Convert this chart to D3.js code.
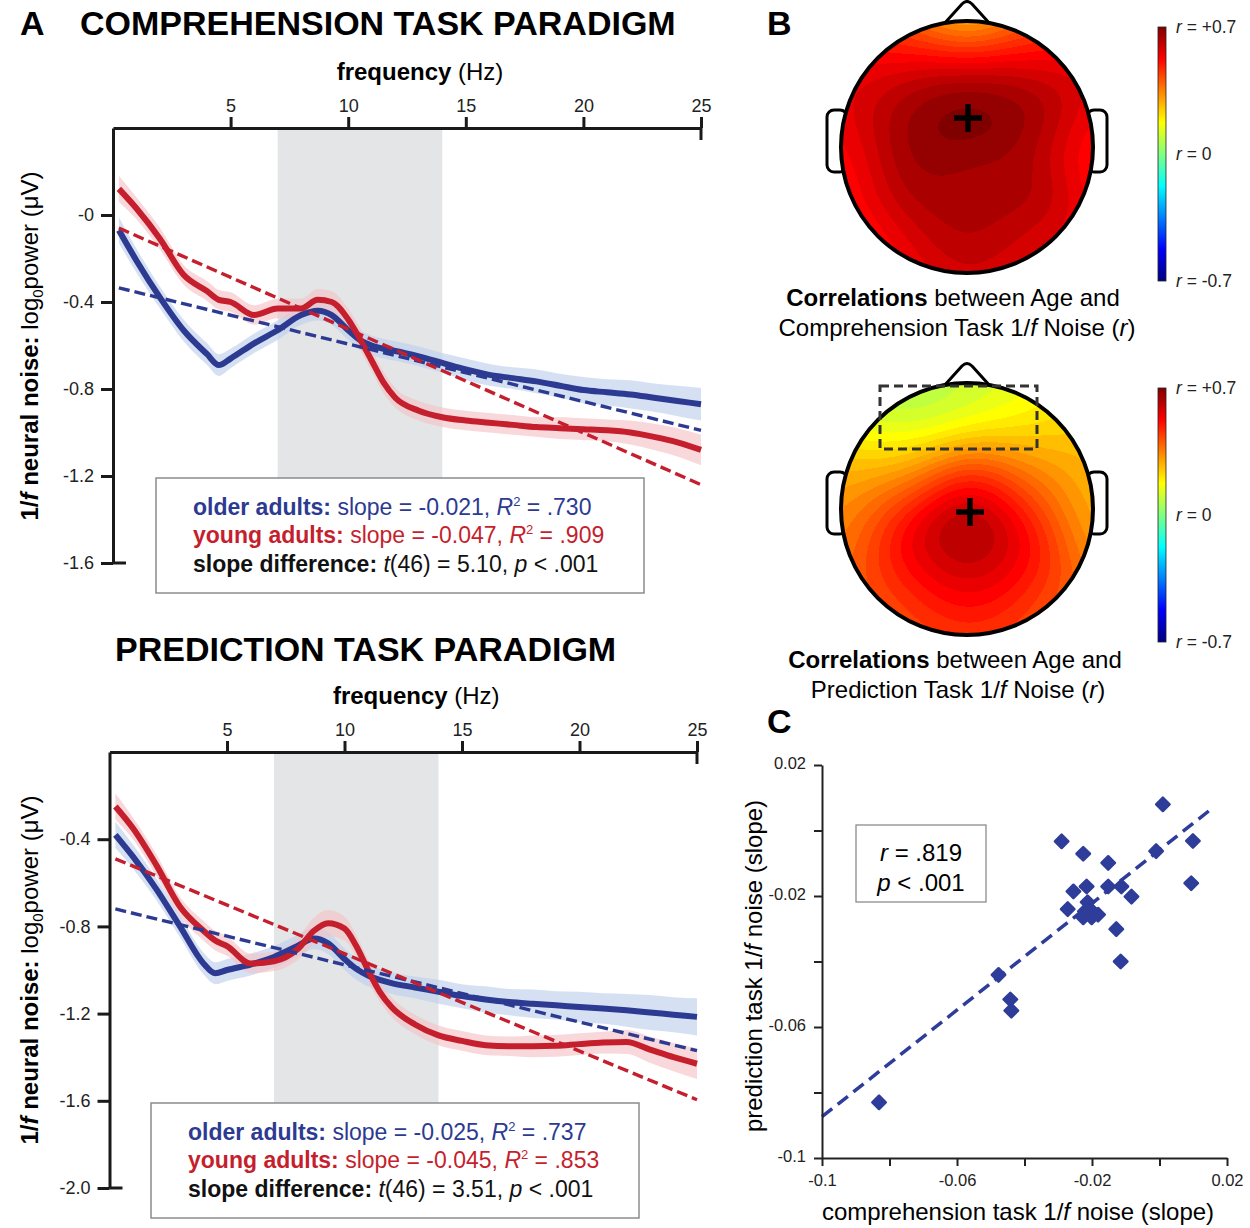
<!DOCTYPE html>
<html>
<head>
<meta charset="utf-8">
<script src="https://cdn.jsdelivr.net/npm/d3@7"></script>
<style>
  body { margin: 0; background: #fff; }
  text { font-family: "Liberation Sans", Arial, sans-serif; white-space: pre; }
  .narrow text { font-family: "Liberation Sans Narrow", "Arial Narrow", "Liberation Sans", Arial, sans-serif; }
</style>
</head>
<body>
<svg id="fig" width="1250" height="1228"></svg>
<script>
// ---------- data ----------
var freq = [0.25, 1, 2, 3, 4, 4.5, 5, 6, 7, 8, 8.7, 9.3, 10, 10.5, 11, 11.5, 12, 13, 14, 15, 16, 17, 18, 19, 20, 21, 22, 23, 24, 25];
var alphaBand = [7, 14];

// comprehension task: mean log power and shaded error
var compOlder = [-0.07, -0.21, -0.38, -0.53, -0.64, -0.69, -0.66, -0.59, -0.53, -0.46, -0.44, -0.46, -0.53, -0.575, -0.60, -0.615, -0.625, -0.65, -0.68, -0.71, -0.735, -0.75, -0.765, -0.785, -0.805, -0.815, -0.825, -0.84, -0.855, -0.87];
var compOlderSE = [0.06, 0.055, 0.05, 0.05, 0.05, 0.05, 0.045, 0.045, 0.045, 0.045, 0.045, 0.045, 0.045, 0.045, 0.045, 0.045, 0.045, 0.045, 0.045, 0.05, 0.05, 0.05, 0.055, 0.055, 0.06, 0.06, 0.065, 0.065, 0.07, 0.075];
var compYoung = [0.12, 0.03, -0.11, -0.275, -0.35, -0.39, -0.40, -0.46, -0.43, -0.43, -0.39, -0.40, -0.48, -0.57, -0.67, -0.77, -0.84, -0.90, -0.93, -0.945, -0.955, -0.965, -0.975, -0.98, -0.985, -0.99, -1.0, -1.02, -1.045, -1.08];
var compYoungSE = [0.06, 0.05, 0.05, 0.045, 0.045, 0.045, 0.045, 0.045, 0.045, 0.045, 0.05, 0.05, 0.05, 0.05, 0.05, 0.05, 0.045, 0.045, 0.045, 0.045, 0.045, 0.045, 0.045, 0.05, 0.05, 0.05, 0.055, 0.06, 0.065, 0.07];
var compOlderFit = [-0.335, -0.99];   // at freq 0.25 and 25
var compYoungFit = [-0.06, -1.24];

// prediction task
var predOlder = [-0.38, -0.48, -0.63, -0.80, -0.97, -1.015, -1.0, -0.975, -0.94, -0.89, -0.855, -0.877, -0.95, -0.995, -1.025, -1.045, -1.06, -1.08, -1.10, -1.12, -1.135, -1.147, -1.155, -1.162, -1.17, -1.177, -1.185, -1.195, -1.205, -1.215];
var predOlderSE = [0.06, 0.055, 0.05, 0.05, 0.05, 0.05, 0.05, 0.05, 0.05, 0.05, 0.05, 0.05, 0.05, 0.05, 0.05, 0.05, 0.05, 0.05, 0.055, 0.055, 0.06, 0.06, 0.065, 0.065, 0.07, 0.07, 0.075, 0.08, 0.08, 0.085];
var predYoung = [-0.25, -0.35, -0.52, -0.71, -0.82, -0.865, -0.89, -0.97, -0.96, -0.905, -0.82, -0.785, -0.81, -0.89, -1.0, -1.10, -1.17, -1.25, -1.30, -1.325, -1.345, -1.35, -1.35, -1.348, -1.34, -1.333, -1.33, -1.365, -1.40, -1.43];
var predYoungSE = [0.06, 0.05, 0.05, 0.045, 0.045, 0.045, 0.045, 0.045, 0.045, 0.05, 0.06, 0.06, 0.055, 0.05, 0.05, 0.045, 0.045, 0.045, 0.045, 0.045, 0.045, 0.045, 0.05, 0.05, 0.05, 0.05, 0.055, 0.06, 0.065, 0.07];
var predOlderFit = [-0.72, -1.37];
var predYoungFit = [-0.49, -1.595];

var compYTicks = [0, -0.4, -0.8, -1.2, -1.6];
var compYLabels = ["-0", "-0.4", "-0.8", "-1.2", "-1.6"];
var predYTicks = [-0.4, -0.8, -1.2, -1.6, -2.0];
var predYLabels = ["-0.4", "-0.8", "-1.2", "-1.6", "-2.0"];
var freqTicks = [5, 10, 15, 20, 25];

// topographic maps: electrode positions (unit head) and r values
var elecX = [0, -0.4, 0.4, -0.7, 0.7, -0.95, 0.95, -1, 1, -0.95, 0.95, -0.7, 0.7, -0.4, 0.4, 0, 0, -0.35, 0.35, -0.6, 0.6, 0, -0.3, 0.3, -0.6, 0.6, 0, -0.3, 0.3, 0.55, 0, -0.55, 0, -0.3, 0.3];
var elecY = [1, 0.92, 0.92, 0.7, 0.7, 0.3, 0.3, 0, 0, -0.3, -0.3, -0.7, -0.7, -0.92, -0.92, -1, 0.7, 0.6, 0.6, 0.35, 0.35, 0.3, 0.25, 0.25, 0, 0, 0, -0.3, -0.3, -0.4, -0.35, -0.45, -0.7, -0.7, -0.7];
var compTopo = [0.05, 0.32, 0.32, 0.5, 0.5, 0.55, 0.55, 0.5, 0.45, 0.47, 0.5, 0.42, 0.5, 0.5, 0.52, 0.55, 0.62, 0.64, 0.64, 0.64, 0.7, 0.74, 0.72, 0.72, 0.66, 0.6, 0.68, 0.68, 0.62, 0.72, 0.6, 0.66, 0.7, 0.64, 0.64];
var predTopo = [0.1, 0.04, 0.12, 0.08, 0.22, 0.25, 0.26, 0.32, 0.25, 0.35, 0.3, 0.36, 0.36, 0.38, 0.38, 0.4, 0.1, 0.08, 0.18, 0.25, 0.3, 0.48, 0.44, 0.48, 0.5, 0.46, 0.75, 0.63, 0.63, 0.52, 0.66, 0.52, 0.58, 0.52, 0.54];

// scatter: slopes per participant
var compSlope = [0.001, -0.029, -0.0226, -0.0152, -0.001, 0.0099, 0.0094, -0.0255, -0.0216, -0.0152, -0.0113, -0.0083, -0.0213, -0.0272, -0.0226, -0.0206, -0.0201, -0.0182, -0.0221, -0.0128, -0.0115, -0.0477, -0.0442, -0.0439, -0.0831];
var predSlope = [0.008, -0.0033, -0.0071, -0.0099, -0.0063, -0.0032, -0.0161, -0.0186, -0.0171, -0.0171, -0.0171, -0.0202, -0.0219, -0.024, -0.0265, -0.024, -0.0265, -0.0257, -0.0247, -0.0301, -0.04, -0.0441, -0.0516, -0.055, -0.083];
var slopeFitX = [-0.1, 0.016];
var slopeFitY = [-0.0874, 0.0071];
var scatterTicks = [-0.1, -0.08, -0.06, -0.04, -0.02, 0, 0.02];
var scatterLabels = ["-0.1", "", "-0.06", "", "-0.02", "", "0.02"];

// ---------- drawing ----------
var blue = "#2c3a92", red = "#c51f2e";
var svg = d3.select("#fig");

function rich(g, x, y, parts, anchor) {
  var t = g.append("text").attr("x", x).attr("y", y).attr("text-anchor", anchor || "start");
  parts.forEach(function(p) {
    var s = t.append("tspan").text(p.t);
    if (p.b) s.attr("font-weight", "bold");
    if (p.i) s.attr("font-style", "italic");
    if (p.fs) s.attr("font-size", p.fs);
    if (p.dy) s.attr("dy", p.dy);
  });
  return t;
}

function spectrum(o) {
  var x = d3.scaleLinear().domain([0, 25]).range([o.left, o.right]);
  var y = d3.scaleLinear().domain(o.yDomain).range([o.bottom, o.top]);
  var g = svg.append("g");

  g.append("rect")
    .attr("x", x(alphaBand[0])).attr("y", o.top)
    .attr("width", x(alphaBand[1]) - x(alphaBand[0]))
    .attr("height", o.bottom - o.top)
    .attr("fill", "#e3e5e7");

  var idx = d3.range(freq.length);
  var groups = [
    {m: o.older, se: o.olderSE, fit: o.olderFit, c: blue, band: "#bfd1ec"},
    {m: o.young, se: o.youngSE, fit: o.youngFit, c: red, band: "#f4c3c6"}
  ];
  groups.forEach(function(s) {
    g.append("path")
      .attr("d", d3.area().curve(d3.curveMonotoneX)
        .x(i => x(freq[i])).y0(i => y(s.m[i] - s.se[i])).y1(i => y(s.m[i] + s.se[i]))(idx))
      .attr("fill", s.band).attr("opacity", 0.65);
  });
  groups.forEach(function(s) {
    g.append("path")
      .attr("d", d3.line().curve(d3.curveMonotoneX).x(i => x(freq[i])).y(i => y(s.m[i]))(idx))
      .attr("fill", "none").attr("stroke", s.c).attr("stroke-width", 6)
      .attr("stroke-linejoin", "round");
  });
  groups.forEach(function(s) {
    g.append("line")
      .attr("x1", x(freq[0])).attr("y1", y(s.fit[0]))
      .attr("x2", x(25)).attr("y2", y(s.fit[1]))
      .attr("stroke", s.c).attr("stroke-width", 3.4).attr("stroke-dasharray", "11,5");
  });

  // axes
  var xa = g.append("g").attr("class", "narrow").attr("transform", `translate(0,${o.top})`)
    .call(d3.axisTop(x).tickValues(freqTicks).tickSize(11).tickSizeOuter(0).tickPadding(5));
  var ya = g.append("g").attr("class", "narrow").attr("transform", `translate(${o.left},0)`)
    .call(d3.axisLeft(y).tickValues(o.yTicks).tickFormat((d, i) => o.yLabels[i]).tickSize(12).tickSizeOuter(0).tickPadding(7));
  [xa, ya].forEach(function(a) {
    a.attr("font-family", null).attr("font-size", 18);
    a.selectAll("path, line").attr("stroke", "#1a1a1a").attr("stroke-width", 3);
    a.selectAll("text").attr("fill", "#222");
  });
  g.append("line").attr("x1", x(25)).attr("x2", x(25)).attr("y1", o.top).attr("y2", o.top + 12)
    .attr("stroke", "#1a1a1a").attr("stroke-width", 3);
  g.append("line").attr("x1", o.left).attr("x2", o.left + 13).attr("y1", o.bottom).attr("y2", o.bottom)
    .attr("stroke", "#1a1a1a").attr("stroke-width", 3);

  // axis titles
  rich(g, (o.left + o.right) / 2 + 13, o.top - 48, [{t: "frequency", b: 1}, {t: " (Hz)"}], "middle").attr("font-size", 24);
  rich(g, 0, 0, [{t: "1/", b: 1}, {t: "f", b: 1, i: 1}, {t: " neural noise:", b: 1}, {t: " log"}, {t: "0", fs: 15, dy: 5}, {t: "power (\u03bcV)", dy: -5}], "middle")
    .attr("font-size", 24).attr("transform", `translate(38,${o.labelY}) rotate(-90)`);

  // legend box
  var L = g.append("g");
  L.append("rect").attr("x", o.box[0]).attr("y", o.box[1]).attr("width", 488).attr("height", 115)
    .attr("fill", "#fff").attr("stroke", "#8c8c8c").attr("stroke-width", 1.5);
  var lx = o.box[0] + 37, ly = o.box[1] + 37;
  rich(L, lx, ly, [{t: "older adults:", b: 1}, {t: " slope = " + o.stats[0] + ", "}, {t: "R", i: 1}, {t: "2", fs: 13, dy: -9}, {t: " = " + o.stats[1], dy: 9}])
    .attr("font-size", 23).attr("fill", blue);
  rich(L, lx, ly + 28, [{t: "young adults:", b: 1}, {t: " slope = " + o.stats[2] + ", "}, {t: "R", i: 1}, {t: "2", fs: 13, dy: -9}, {t: " = " + o.stats[3], dy: 9}])
    .attr("font-size", 23).attr("fill", red);
  rich(L, lx, ly + 57, [{t: "slope difference:", b: 1}, {t: " "}, {t: "t", i: 1}, {t: "(46) = " + o.stats[4] + ", "}, {t: "p", i: 1}, {t: " < .001"}])
    .attr("font-size", 23).attr("fill", "#111");
}

// titles
svg.append("text").attr("x", 20).attr("y", 35).attr("font-size", 34).attr("font-weight", "bold").text("A");
svg.append("text").attr("x", 80).attr("y", 35).attr("font-size", 34).attr("font-weight", "bold").text("COMPREHENSION TASK PARADIGM");
svg.append("text").attr("x", 115).attr("y", 661).attr("font-size", 34).attr("font-weight", "bold").text("PREDICTION TASK PARADIGM");
svg.append("text").attr("x", 767).attr("y", 35).attr("font-size", 34).attr("font-weight", "bold").text("B");
svg.append("text").attr("x", 767).attr("y", 733).attr("font-size", 34).attr("font-weight", "bold").text("C");

spectrum({left: 113, right: 701, top: 128, bottom: 563, yDomain: [-1.6, 0.4],
  yTicks: compYTicks, yLabels: compYLabels, labelY: 346,
  older: compOlder, olderSE: compOlderSE, olderFit: compOlderFit,
  young: compYoung, youngSE: compYoungSE, youngFit: compYoungFit,
  box: [156, 478], stats: ["-0.021", ".730", "-0.047", ".909", "5.10"]});

spectrum({left: 109.5, right: 697, top: 752, bottom: 1188, yDomain: [-2.0, 0],
  yTicks: predYTicks, yLabels: predYLabels, labelY: 970,
  older: predOlder, olderSE: predOlderSE, olderFit: predOlderFit,
  young: predYoung, youngSE: predYoungSE, youngFit: predYoungFit,
  box: [151, 1103], stats: ["-0.025", ".737", "-0.045", ".853", "3.51"]});

// ---------- panel B: topographies ----------
function jet(t) {
  var c = v => Math.max(0, Math.min(1, v));
  return [c(1.5 - Math.abs(4 * t - 3)), c(1.5 - Math.abs(4 * t - 2)), c(1.5 - Math.abs(4 * t - 1))];
}
var rScale = d3.scaleLinear().domain([-0.7, 0.7]).range([0, 1]).clamp(true);

function topo(cx, cy, R, vals, id, roi) {
  var g = svg.append("g");
  // nose and ears behind the head
  g.append("path")
    .attr("d", `M${cx - 24},${cy - R + 4} L${cx - 5},${cy - R - 17} Q${cx},${cy - R - 22} ${cx + 5},${cy - R - 17} L${cx + 24},${cy - R + 4}`)
    .attr("fill", "#fff").attr("stroke", "#000").attr("stroke-width", 3).attr("stroke-linejoin", "round");
  [-1, 1].forEach(function(s) {
    g.append("rect").attr("x", s < 0 ? cx - R - 14 : cx + R - 6).attr("y", cy - 37)
      .attr("width", 20).attr("height", 62).attr("rx", 7)
      .attr("fill", "#fff").attr("stroke", "#000").attr("stroke-width", 3);
  });

  // smooth the electrode values with a gaussian kernel
  var size = 2 * R, sig2 = 2 * 0.26 * 0.26, steps = 48;
  var cv = document.createElement("canvas");
  cv.width = size; cv.height = size;
  var ctx = cv.getContext("2d");
  var img = ctx.createImageData(size, size);
  for (var py = 0; py < size; py++) {
    for (var px = 0; px < size; px++) {
      var u = (px + 0.5 - R) / R, v = (R - py - 0.5) / R;
      if (u * u + v * v > 1.05) continue;
      var num = 0, den = 0;
      for (var k = 0; k < elecX.length; k++) {
        var d2 = (u - elecX[k]) * (u - elecX[k]) + (v - elecY[k]) * (v - elecY[k]);
        var w = Math.exp(-d2 / sig2);
        num += w * vals[k]; den += w;
      }
      var t = Math.round(rScale(num / den) * steps) / steps;
      var col = jet(t);
      var o = (py * size + px) * 4;
      img.data[o] = col[0] * 255; img.data[o + 1] = col[1] * 255; img.data[o + 2] = col[2] * 255; img.data[o + 3] = 255;
    }
  }
  ctx.putImageData(img, 0, 0);
  svg.append("clipPath").attr("id", id).append("circle").attr("cx", cx).attr("cy", cy).attr("r", R);
  g.append("image").attr("href", cv.toDataURL()).attr("x", cx - R).attr("y", cy - R)
    .attr("width", size).attr("height", size).attr("clip-path", `url(#${id})`);
  g.append("circle").attr("cx", cx).attr("cy", cy).attr("r", R)
    .attr("fill", "none").attr("stroke", "#000").attr("stroke-width", 4);
  if (roi) {
    g.append("rect").attr("x", roi[0]).attr("y", roi[1]).attr("width", roi[2]).attr("height", roi[3])
      .attr("fill", "none").attr("stroke", "#333").attr("stroke-width", 3).attr("stroke-dasharray", "9,5");
  }
  return g;
}

function cross(x, y) {
  svg.append("path").attr("d", `M${x - 14},${y} H${x + 14} M${x},${y - 14} V${y + 14}`)
    .attr("stroke", "#000").attr("stroke-width", 5.5);
}

var defs = svg.append("defs");
var grad = defs.append("linearGradient").attr("id", "jetGrad").attr("x1", 0).attr("y1", 1).attr("x2", 0).attr("y2", 0);
d3.range(0, 1.0001, 0.0625).forEach(function(t) {
  var c = jet(t);
  grad.append("stop").attr("offset", t).attr("stop-color", d3.rgb(c[0] * 255, c[1] * 255, c[2] * 255));
});

function colorbar(top, bottom) {
  svg.append("rect").attr("x", 1158).attr("y", top).attr("width", 8).attr("height", bottom - top)
    .attr("fill", "url(#jetGrad)").attr("stroke", "#222").attr("stroke-width", 0.8);
  var cb = d3.scaleLinear().domain([-0.7, 0.7]).range([bottom, top]);
  [["+0.7", 0.7], ["0", 0], ["-0.7", -0.7]].forEach(function(l) {
    rich(svg, 1176, cb(l[1]) + 6, [{t: "r", i: 1}, {t: " = " + l[0]}]).attr("font-size", 17.5).attr("fill", "#222");
  });
}

topo(967, 147, 126, compTopo, "clipA");
cross(968, 118);
colorbar(27, 281);
rich(svg, 953, 306, [{t: "Correlations", b: 1}, {t: " between Age and"}], "middle").attr("font-size", 24);
rich(svg, 957, 336, [{t: "Comprehension Task 1/"}, {t: "f", i: 1}, {t: " Noise ("}, {t: "r", i: 1}, {t: ")"}], "middle").attr("font-size", 24);

topo(967, 509, 126, predTopo, "clipB", [880, 386, 157, 63]);
cross(970, 512);
colorbar(388, 642);
rich(svg, 955, 668, [{t: "Correlations", b: 1}, {t: " between Age and"}], "middle").attr("font-size", 24);
rich(svg, 958, 698, [{t: "Prediction Task 1/"}, {t: "f", i: 1}, {t: " Noise ("}, {t: "r", i: 1}, {t: ")"}], "middle").attr("font-size", 24);

// ---------- panel C: scatter ----------
var sx = d3.scaleLinear().domain([-0.1, 0.02]).range([822, 1227]);
var sy = d3.scaleLinear().domain([-0.1, 0.02]).range([1158, 765]);
var gc = svg.append("g");

gc.append("line").attr("x1", sx(slopeFitX[0])).attr("y1", sy(slopeFitY[0]))
  .attr("x2", sx(slopeFitX[1])).attr("y2", sy(slopeFitY[1]))
  .attr("stroke", "#2e3d99").attr("stroke-width", 3.5).attr("stroke-dasharray", "13,7");

gc.selectAll("path.pt").data(compSlope).enter().append("path")
  .attr("class", "pt")
  .attr("d", d3.symbol().type(d3.symbolSquare).size(90))
  .attr("transform", (d, i) => `translate(${sx(d)},${sy(predSlope[i])}) rotate(45)`)
  .attr("fill", "#2e3d99").attr("stroke", "#2e3d99").attr("stroke-width", 2.5).attr("stroke-linejoin", "round");

var cxa = gc.append("g").attr("transform", `translate(0,${sy(-0.1)})`)
  .call(d3.axisBottom(sx).tickValues(scatterTicks).tickFormat((d, i) => scatterLabels[i]).tickSize(8).tickSizeOuter(0).tickPadding(8));
var cya = gc.append("g").attr("transform", `translate(${sx(-0.1)},0)`)
  .call(d3.axisLeft(sy).tickValues(scatterTicks).tickFormat((d, i) => scatterLabels[i]).tickSize(8).tickSizeOuter(0).tickPadding(8));
[cxa, cya].forEach(function(a) {
  a.attr("font-family", null).attr("font-size", 16.5);
  a.selectAll("path, line").attr("stroke", "#222").attr("stroke-width", 2);
  a.selectAll("text").attr("fill", "#222");
});
cya.selectAll("text").attr("dy", "0.2em");

rich(gc, 1018, 1220, [{t: "comprehension task 1/"}, {t: "f", i: 1}, {t: " noise (slope)"}], "middle").attr("font-size", 24);
rich(gc, 0, 0, [{t: "prediction task 1/"}, {t: "f", i: 1}, {t: " noise (slope)"}], "middle")
  .attr("font-size", 24).attr("transform", "translate(762,966) rotate(-90)");

gc.append("rect").attr("x", 856).attr("y", 825).attr("width", 130).attr("height", 77)
  .attr("fill", "#fff").attr("stroke", "#8c8c8c").attr("stroke-width", 1.3);
rich(gc, 921, 861, [{t: "r", i: 1}, {t: " = .819"}], "middle").attr("font-size", 24);
rich(gc, 921, 891, [{t: "p", i: 1}, {t: " < .001"}], "middle").attr("font-size", 24);
</script>
</body>
</html>
